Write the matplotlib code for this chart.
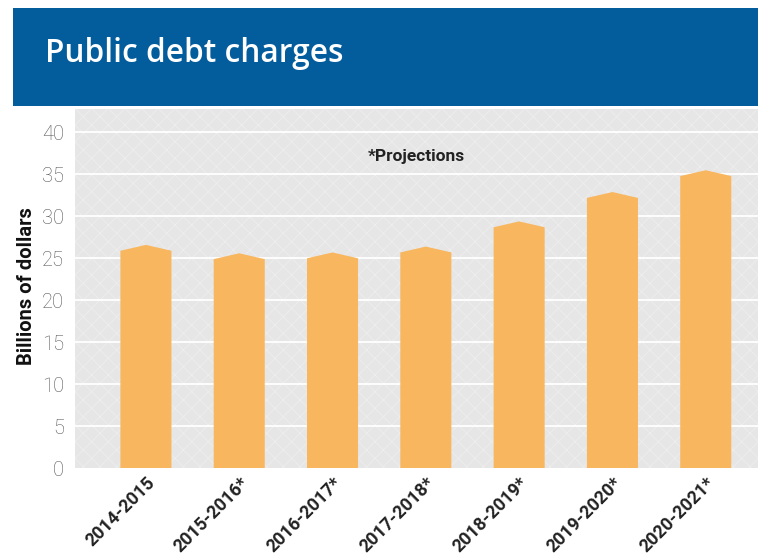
import matplotlib
matplotlib.use("Agg")
import matplotlib.pyplot as plt
from matplotlib.patches import Rectangle

categories = ["2014-2015", "2015-2016*", "2016-2017*", "2017-2018*",
              "2018-2019*", "2019-2020*", "2020-2021*"]
values = [26.6, 25.6, 25.7, 26.4, 29.4, 32.9, 35.5]
yticks = [0, 5, 10, 15, 20, 25, 30, 35, 40]

BAR = "#f8b65f"
BLUE = "#035c9c"
BG = "#e6e6e6"

plt.rcParams['hatch.linewidth'] = 0.6

fig = plt.figure(figsize=(7.58, 5.57), dpi=100)
W, H = 758, 557

# Title banner
fig.patches.append(Rectangle((13 / W, 1 - 106 / H), (W - 13) / W, 98 / H,
                             transform=fig.transFigure, facecolor=BLUE,
                             edgecolor='none', zorder=0))
fig.text(45 / W, 1 - 53 / H, "Public debt charges", color="white",
         fontsize=22.8, fontfamily="Open Sans", fontweight="semibold",
         ha="left", va="center")

ax = fig.add_axes([75 / W, 1 - 468 / H, (W - 75) / W, (468 - 109) / H])
ax.set_facecolor(BG)
bgp = Rectangle((0, 0), 1, 1, transform=ax.transAxes, facecolor=BG,
                edgecolor="#eeeeee", hatch="xx", linewidth=0, zorder=0)
ax.add_patch(bgp)

ax.set_ylim(0, 42.8)
ax.set_xlim(-0.76, 6.56)
ax.set_yticks(yticks)
ax.set_yticklabels([str(t) for t in yticks], fontfamily="Roboto",
                   fontweight="light", fontsize=14.5, color="#555555")
ax.tick_params(axis='y', length=0, pad=8)
ax.tick_params(axis='x', length=0, pad=4)
for t in yticks[1:]:
    ax.axhline(t, color="white", linewidth=1.3, zorder=1)

w = 0.547
peak = 0.7
for i, v in enumerate(values):
    xs = [i - w / 2, i - w / 2, i, i + w / 2, i + w / 2]
    ys = [0, v - peak, v, v - peak, 0]
    ax.fill(xs, ys, color=BAR, zorder=2, linewidth=0)

ax.set_xticks(range(len(categories)))
ax.set_xticklabels(categories, rotation=45, ha="right", rotation_mode="anchor",
                   fontfamily="Roboto", fontweight="bold", fontsize=13,
                   color="#222222")
for s in ax.spines.values():
    s.set_visible(False)

ax.text(0.5, 0.869, "*Projections", transform=ax.transAxes, ha="center",
        va="center", fontfamily="Roboto", fontweight="bold", fontsize=12.5,
        color="#222222")

fig.text(27 / W, 1 - 286 / H, "Billions of dollars", rotation=90,
         ha="center", va="center", fontfamily="Roboto", fontweight="bold",
         fontsize=14.5, color="#111111")

fig.savefig("out.png", dpi=100)
